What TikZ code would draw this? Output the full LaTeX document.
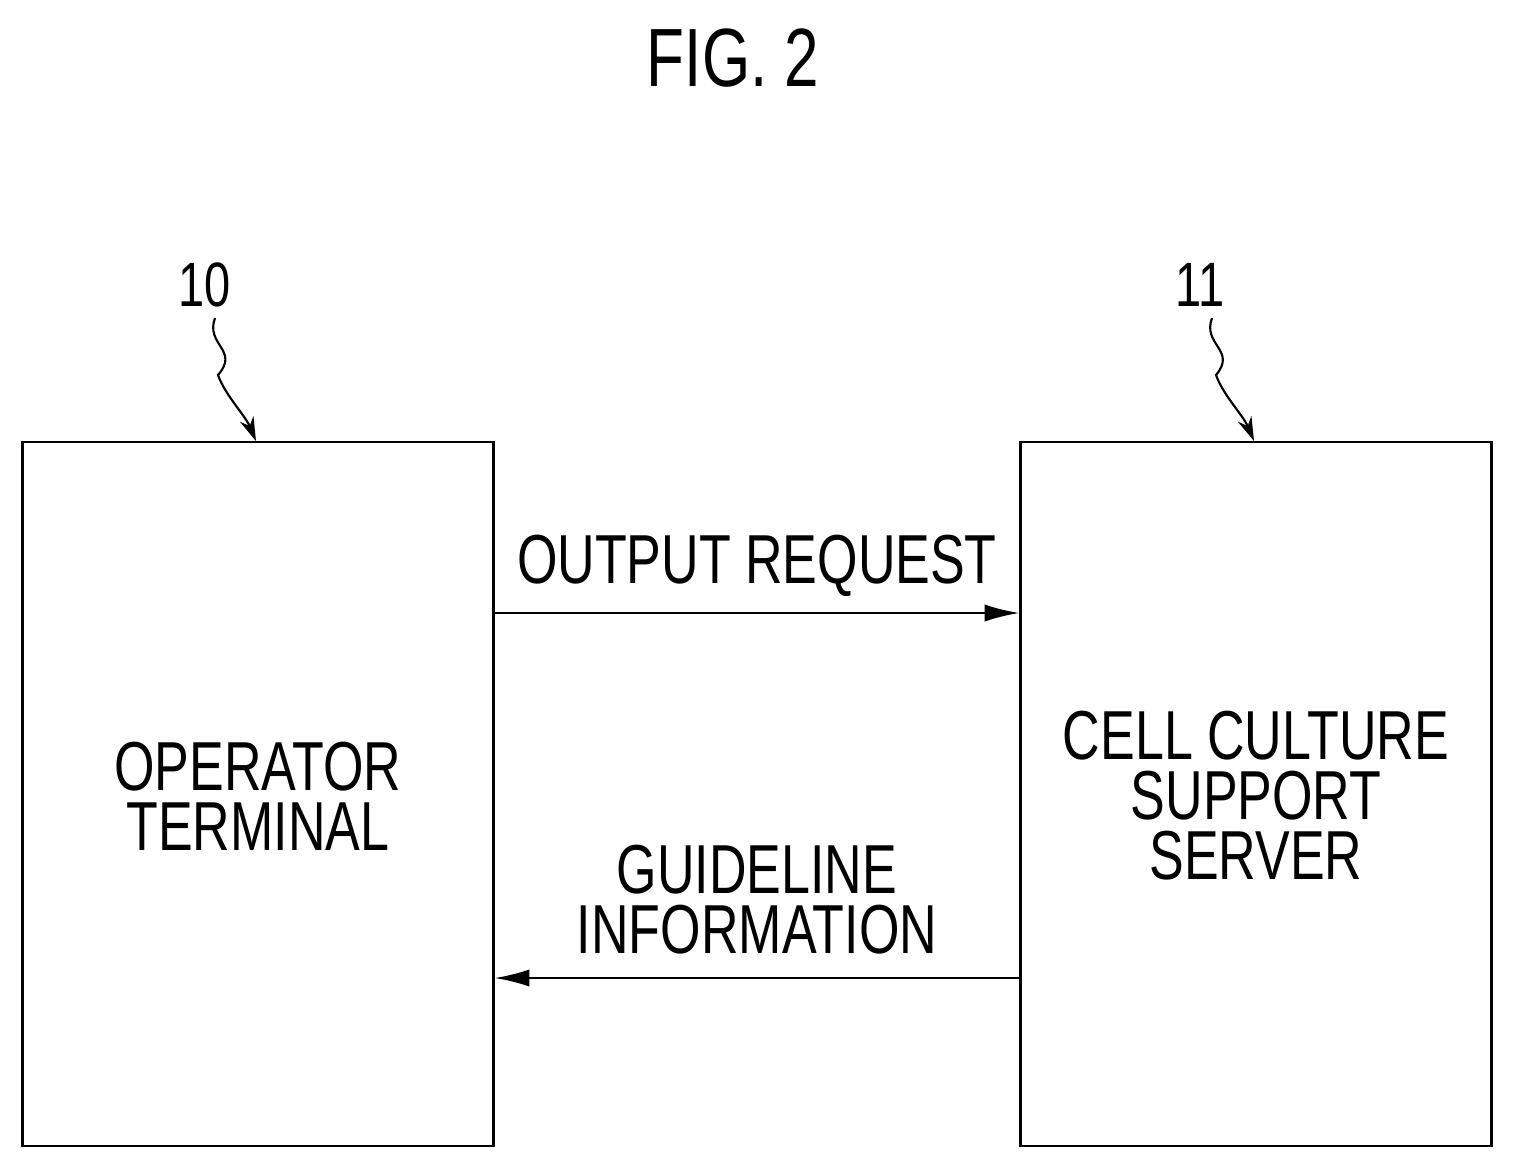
\documentclass[tikz,border=0pt]{standalone}
\usepackage{fontspec}
\newfontfamily\narrowsf[FakeStretch=0.75]{Liberation Sans}
\usetikzlibrary{positioning,arrows.meta}

\begin{document}
\begin{tikzpicture}[x=0.75pt,y=0.75pt,yscale=-1,xscale=1,
  box/.style={draw,line width=2.2pt,minimum width=353pt,minimum height=528pt,inner sep=0pt},
  txt/.style={font=\narrowsf\fontsize{52}{45}\selectfont,align=center,inner sep=1pt},
  flow/.style={line width=1.6pt,-{Latex[length=26pt,width=13pt]}},
  lead/.style={line width=1.6pt,-{Stealth[length=18pt,width=11pt]}}]
  \useasboundingbox (0,0) rectangle (1515,1171);

  % Title
  \node[font=\narrowsf\fontsize{62}{62}\selectfont] (fig) at (733,58) {FIG. 2};

  % Blocks
  \node[box] (term) at (258,794) {};
  \node[box] (serv) at (1256,794) {};
  \node[txt] (termtxt) at (258,796) {OPERATOR\\TERMINAL};
  \node[txt] (servtxt) at (1256,796) {CELL CULTURE\\SUPPORT\\SERVER};

  % Reference numerals
  \node[txt,font=\narrowsf\fontsize{47}{47}\selectfont] (n10) at (205,285) {10};
  \node[txt,font=\narrowsf\fontsize{47}{47}\selectfont] (n11) at (1200,285) {11};
  \coordinate (t10) at (256,441);
  \coordinate (t11) at (1254,441);
  \draw[lead] (215,318) .. controls (205,345) and (240,350) .. (218,375) .. controls (225,395) and (245,415) .. (t10);
  \draw[lead] (1212,318) .. controls (1202,345) and (1237,350) .. (1216,375) .. controls (1223,395) and (1243,415) .. (t11);

  % Messages
  \draw[flow] (term.east |- 0,613) -- (serv.west |- 0,613);
  \draw[flow] (serv.west |- 0,978) -- (term.east |- 0,978);
  \node[txt] (req) at (757,566) {OUTPUT REQUEST};
  \node[txt] (guide) at (757,900) {GUIDELINE\\INFORMATION};
\end{tikzpicture}
\end{document}
